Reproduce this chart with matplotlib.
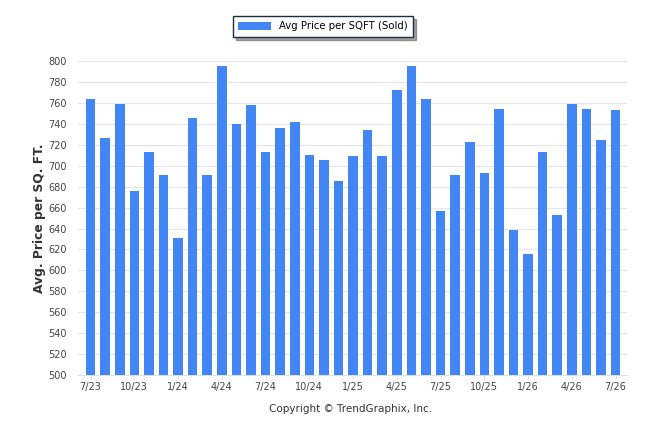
import matplotlib.pyplot as plt
import numpy as np

months = ['7/23', '8/23', '9/23', '10/23', '11/23', '12/23', '1/24', '2/24', '3/24',
          '4/24', '5/24', '6/24', '7/24', '8/24', '9/24', '10/24', '11/24', '12/24',
          '1/25', '2/25', '3/25', '4/25', '5/25', '6/25', '7/25', '8/25', '9/25',
          '10/25', '11/25', '12/25', '1/26', '2/26', '3/26', '4/26', '5/26', '6/26', '7/26']
price_sqft = [764, 727, 759, 676, 713, 691, 631, 746, 691,
              795, 740, 758, 713, 736, 742, 710, 706, 685,
              709, 734, 709, 772, 795, 764, 657, 691, 723,
              693, 754, 639, 616, 713, 653, 759, 754, 725, 753]
y_ticks = list(range(500, 801, 20))

bar_color = '#4285f4'
text_color = '#444444'

fig = plt.figure(figsize=(6.46, 4.34), dpi=100)
ax = fig.add_axes([0.121, 0.136, 0.850, 0.723])

x = np.arange(len(months))
ax.bar(x, [v - 500 for v in price_sqft], bottom=500, width=0.66, color=bar_color,
       zorder=3, label='Avg Price per SQFT (Sold)')

ax.set_ylim(500, 800)
ax.set_xlim(-0.85, len(months) - 0.2)
ax.set_yticks(y_ticks)
ax.set_xticks(x[::3])
ax.set_xticklabels(months[::3])
ax.grid(axis='y', color='#e6e6e6', linewidth=0.8, zorder=0)

for s in ['top', 'right', 'left']:
    ax.spines[s].set_visible(False)
ax.spines['bottom'].set_color('#e0e0e0')
ax.tick_params(axis='y', length=0, labelsize=7, colors=text_color, pad=8)
ax.tick_params(axis='x', length=3, color='#e0e0e0', labelsize=7, colors=text_color, pad=2)

ax.set_ylabel('Avg. Price per SQ. FT.', fontsize=8.8, fontweight='bold', color='#333333', labelpad=2)

leg = fig.legend(loc='upper center', bbox_to_anchor=(0.5, 0.975), fontsize=7.3,
                 frameon=True, fancybox=False, shadow=True, handlelength=3.2,
                 handleheight=0.9, borderpad=0.55)
leg.get_frame().set_edgecolor('#1f2a44')
leg.get_frame().set_linewidth(1.0)

fig.text(0.543, 0.057, 'Copyright \u00a9 TrendGraphix, Inc.', ha='center', va='center',
         fontsize=7.5, color='#333333')

fig.savefig('out.png', dpi=100)
